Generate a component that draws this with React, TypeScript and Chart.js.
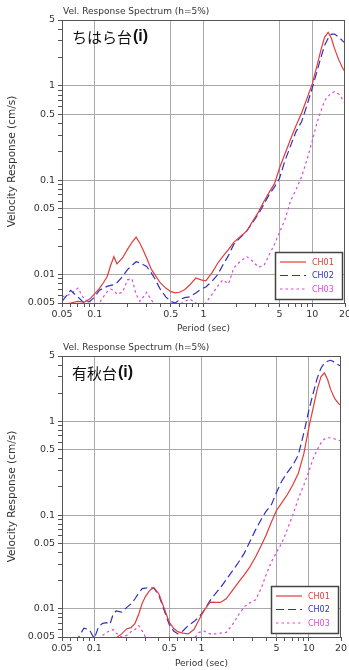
import React, { useEffect, useRef } from "react";
import { Chart, registerables } from "chart.js";

Chart.register(...registerables);

// ---- data ----
const periods = [
  0.05, 0.06, 0.07, 0.08, 0.09, 0.1, 0.11, 0.12, 0.13, 0.14, 0.15, 0.16, 0.18, 0.2, 0.22, 0.24, 0.26, 0.28, 0.3,
  0.33, 0.36, 0.4, 0.45, 0.5, 0.55, 0.6, 0.67, 0.75, 0.85, 0.95, 1.05, 1.2, 1.35, 1.5, 1.7, 1.9, 2.2, 2.5, 2.8,
  3.2, 3.6, 4.0, 4.5, 5.0, 5.6, 6.3, 7.1, 8.0, 9.0, 10, 11, 12, 13, 14, 15, 16, 17.5, 19, 20,
];

const topCH01 = [
  0.0048, 0.005, 0.0052, 0.0051, 0.0055, 0.0063, 0.0071, 0.0082, 0.0095, 0.0125, 0.0155, 0.013, 0.015, 0.0185,
  0.022, 0.025, 0.0215, 0.018, 0.015, 0.0115, 0.0098, 0.0082, 0.0072, 0.0066, 0.0064, 0.0065, 0.0069, 0.0078,
  0.0092, 0.0088, 0.0086, 0.0105, 0.0132, 0.0155, 0.0185, 0.022, 0.0255, 0.029, 0.036, 0.046, 0.06, 0.074, 0.092,
  0.135, 0.19, 0.27, 0.38, 0.52, 0.75, 1.05, 1.6, 2.4, 3.3, 3.7, 3.2, 2.5, 1.9, 1.55, 1.42,
];
const topCH02 = [
  0.0052, 0.0068, 0.0058, 0.005, 0.0052, 0.0058, 0.0068, 0.0072, 0.0075, 0.0077, 0.0078, 0.0082, 0.0095, 0.0113,
  0.0125, 0.0137, 0.0133, 0.0127, 0.0122, 0.0105, 0.0089, 0.007, 0.0058, 0.0052, 0.005, 0.0054, 0.0057, 0.0058,
  0.0064, 0.007, 0.0074, 0.0085, 0.01, 0.0125, 0.016, 0.021, 0.025, 0.029, 0.035, 0.044, 0.056, 0.07, 0.085,
  0.105, 0.16, 0.23, 0.33, 0.42, 0.64, 0.95, 1.4, 2.0, 2.7, 3.2, 3.55, 3.55, 3.3, 3.0, 2.85,
];
const topCH03 = [
  0.0058, 0.0062, 0.0072, 0.0055, 0.005, 0.0048, 0.005, 0.0058, 0.0066, 0.007, 0.0068, 0.0062, 0.0065, 0.0088,
  0.009, 0.0062, 0.0052, 0.0058, 0.0065, 0.0054, 0.0048, 0.0045, 0.0044, 0.0045, 0.0046, 0.0048, 0.0052, 0.0055,
  0.005, 0.0046, 0.005, 0.0062, 0.0075, 0.0088, 0.008, 0.0118, 0.014, 0.0155, 0.014, 0.012, 0.0125, 0.016, 0.021,
  0.028, 0.038, 0.06, 0.08, 0.11, 0.17, 0.26, 0.4, 0.54, 0.7, 0.78, 0.84, 0.87, 0.82, 0.72, 0.65,
];

const botCH01 = [
  0.0042, 0.0043, 0.0044, 0.0045, 0.0046, 0.0047, 0.0046, 0.0047, 0.0046, 0.0047, 0.0048, 0.0049, 0.0054, 0.0061,
  0.0063, 0.007, 0.0088, 0.0115, 0.0135, 0.0158, 0.0168, 0.0145, 0.01, 0.0072, 0.0062, 0.0057, 0.0055, 0.0054,
  0.006, 0.0077, 0.0095, 0.0118, 0.0117, 0.0117, 0.0128, 0.0152, 0.019, 0.023, 0.0275, 0.036, 0.047, 0.061, 0.085,
  0.112, 0.135, 0.165, 0.21, 0.28, 0.45, 0.85, 1.4, 2.2, 3.0, 3.3, 2.8, 2.2, 1.75, 1.55, 1.48,
];
const botCH02 = [
  0.0042, 0.0044, 0.0048, 0.0062, 0.006, 0.0048, 0.0065, 0.007, 0.0071, 0.0068, 0.0088, 0.0095, 0.0092, 0.0103,
  0.0113, 0.0128, 0.0148, 0.0164, 0.0166, 0.0168, 0.0166, 0.014, 0.0095, 0.0068, 0.0058, 0.0054, 0.0058, 0.0066,
  0.0073, 0.0082, 0.0095, 0.0122, 0.0145, 0.0168, 0.0205, 0.0245, 0.031, 0.039, 0.051, 0.07, 0.09, 0.11, 0.13,
  0.175, 0.23, 0.285, 0.34, 0.44, 0.75, 1.3, 2.0, 2.9, 3.7, 4.2, 4.4, 4.5, 4.3, 4.0, 3.9,
];
const botCH03 = [
  0.004, 0.0041, 0.0042, 0.0043, 0.0045, 0.005, 0.0048, 0.0052, 0.0056, 0.0058, 0.006, 0.0055, 0.005, 0.0052,
  0.0057, 0.006, 0.0066, 0.0058, 0.005, 0.0046, 0.0045, 0.0044, 0.0043, 0.0043, 0.0043, 0.0044, 0.0045, 0.0046,
  0.0048, 0.0056, 0.0058, 0.0054, 0.0054, 0.0055, 0.0056, 0.0065, 0.0085, 0.0105, 0.0115, 0.0125, 0.0165, 0.023,
  0.032, 0.04, 0.05, 0.07, 0.1, 0.15, 0.21, 0.29, 0.4, 0.5, 0.59, 0.65, 0.67, 0.67, 0.65, 0.63, 0.62,
];

const seriesNames = ["CH01", "CH02", "CH03"];
const xTickValues = [0.05, 0.06, 0.07, 0.08, 0.09, 0.1, 0.2, 0.3, 0.4, 0.5, 0.6, 0.7, 0.8, 0.9, 1, 2, 3, 4, 5, 6, 7, 8, 9, 10, 20];
const xTickLabels = ["0.05", "0.1", "0.5", "1", "5", "10", "20"];
const xGridValues = [0.1, 0.5, 1, 5, 10];
const yTickValues = [
  0.005, 0.006, 0.007, 0.008, 0.009, 0.01, 0.02, 0.03, 0.04, 0.05, 0.06, 0.07, 0.08, 0.09, 0.1, 0.2, 0.3, 0.4, 0.5,
  0.6, 0.7, 0.8, 0.9, 1, 2, 3, 4, 5,
];
const yTickLabels = ["0.005", "0.01", "0.05", "0.1", "0.5", "1", "5"];
const yGridValues = [0.01, 0.05, 0.1, 0.5, 1];

const chartTitle = "Vel. Response Spectrum (h=5%)";
const xTitle = "Period (sec)";
const yTitle = "Velocity Response (cm/s)";

// ---- styles ----
const COLORS = ["#e23b3b", "#2f2fc2", "#d94ad9"];
const DASHES = [[], [8, 4], [2.5, 3]];
const AXIS = "#555";
const GRID = "#a9a9a9";
const TEXT = "#333";
const FONT = "DejaVu Sans";

const near = (a: number, b: number) => Math.abs(a - b) < 1e-9 * Math.max(1, Math.abs(b));
const labelOf = (v: number) => {
  const s = String(Number(v.toPrecision(6)));
  return s;
};

type PanelProps = {
  station: string;
  ch01: number[];
  ch02: number[];
  ch03: number[];
  height: number;
  plotTop: number;
  plotBottom: number;
  plotRight: number;
};

function Panel(props: PanelProps) {
  const ref = useRef<HTMLCanvasElement | null>(null);
  useEffect(() => {
    const canvas = ref.current;
    if (!canvas) return;
    const W = 349;
    const series = [props.ch01, props.ch02, props.ch03];
    const datasets = series.map((vals, k) => ({
      label: seriesNames[k],
      data: periods.map((p, i) => ({ x: p, y: vals[i] })),
      borderColor: COLORS[k],
      borderWidth: 1.2,
      borderDash: DASHES[k],
      pointRadius: 0,
      tension: 0,
      fill: false,
    }));

    const overlay = {
      id: "overlay",
      afterDraw(chart: any) {
        const ctx = chart.ctx;
        const a = chart.chartArea;
        ctx.save();
        // frame
        ctx.strokeStyle = AXIS;
        ctx.lineWidth = 1;
        ctx.setLineDash([]);
        ctx.strokeRect(Math.round(a.left) + 0.5, Math.round(a.top) + 0.5, Math.round(a.right - a.left) - 1, Math.round(a.bottom - a.top));
        // title
        ctx.fillStyle = TEXT;
        ctx.font = `9px "${FONT}"`;
        ctx.textBaseline = "middle";
        ctx.textAlign = "left";
        ctx.fillText(chartTitle, a.left + 1, a.top - 8);
        // station label
        ctx.fillStyle = "#111";
        ctx.font = `15px "Noto Sans CJK JP"`;
        ctx.fillText(props.station, a.left + 10, a.top + 17);
        const w = ctx.measureText(props.station).width;
        ctx.font = `bold 16px "Liberation Sans"`;
        ctx.fillText("(i)", a.left + 11 + w, a.top + 17);
        // legend box
        const bw = 67;
        const bh = 47;
        const bx = a.right - bw - 3;
        const by = a.bottom - bh - 4;
        ctx.fillStyle = "#fff";
        ctx.fillRect(bx, by, bw, bh);
        ctx.strokeStyle = "#444";
        ctx.lineWidth = 1.5;
        ctx.strokeRect(bx + 0.5, by + 0.5, bw, bh);
        chart.data.datasets.forEach((ds: any, k: number) => {
          const yy = by + 10 + k * 13.5;
          ctx.strokeStyle = ds.borderColor;
          ctx.lineWidth = 1.2;
          ctx.setLineDash(ds.borderDash || []);
          ctx.beginPath();
          ctx.moveTo(bx + 5, yy);
          ctx.lineTo(bx + 31, yy);
          ctx.stroke();
          ctx.setLineDash([]);
          ctx.fillStyle = ds.borderColor;
          ctx.font = `8px "${FONT}"`;
          ctx.textBaseline = "middle";
          ctx.fillText(ds.label, bx + 37, yy + 0.5);
        });
        ctx.restore();
      },
    };

    const chart = new Chart(canvas, {
      type: "line",
      data: { datasets } as any,
      options: {
        animation: false,
        responsive: false,
        maintainAspectRatio: false,
        layout: { padding: { left: 0, right: W - props.plotRight, top: props.plotTop, bottom: 0 } },
        plugins: { legend: { display: false }, tooltip: { enabled: false }, title: { display: false } },
        scales: {
          x: {
            type: "logarithmic",
            min: 0.05,
            max: 20,
            afterBuildTicks: (s: any) => {
              s.ticks = xTickValues.map((v) => ({ value: v }));
            },
            afterFit: (s: any) => {
              s.height = props.height - props.plotBottom;
              s.paddingLeft = 0;
              s.paddingRight = 0;
            },
            ticks: {
              autoSkip: false,
              maxRotation: 0,
              minRotation: 0,
              padding: 2,
              color: TEXT,
              font: { family: FONT, size: 9.5 },
              callback: (v: any) => {
                const l = labelOf(Number(v));
                return xTickLabels.includes(l) ? l : "";
              },
            },
            grid: {
              color: (c: any) => (c.tick && xGridValues.some((g) => near(g, c.tick.value)) ? GRID : "rgba(0,0,0,0)"),
              tickColor: AXIS,
              tickLength: 4,
              lineWidth: 1,
            },
            border: { color: AXIS, width: 1 },
            title: {
              display: true,
              text: xTitle,
              color: TEXT,
              font: { family: FONT, size: 9 },
              padding: { top: 0, bottom: 1 },
            },
          },
          y: {
            type: "logarithmic",
            min: 0.005,
            max: 5,
            afterBuildTicks: (s: any) => {
              s.ticks = yTickValues.map((v) => ({ value: v }));
            },
            afterFit: (s: any) => {
              s.width = 62;
              s.paddingTop = 0;
              s.paddingBottom = 0;
            },
            ticks: {
              autoSkip: false,
              padding: 3,
              color: TEXT,
              font: { family: FONT, size: 9.5 },
              callback: (v: any) => {
                const l = labelOf(Number(v));
                return yTickLabels.includes(l) ? l : "";
              },
            },
            grid: {
              color: (c: any) => (c.tick && yGridValues.some((g) => near(g, c.tick.value)) ? GRID : "rgba(0,0,0,0)"),
              tickColor: AXIS,
              tickLength: 4,
              lineWidth: 1,
            },
            border: { color: AXIS, width: 1 },
            title: {
              display: true,
              text: yTitle,
              color: TEXT,
              font: { family: FONT, size: 10.5 },
              padding: { top: 6, bottom: 0 },
            },
          },
        },
      } as any,
      plugins: [overlay],
    });
    return () => chart.destroy();
  }, []);
  return <canvas ref={ref} width={349} height={props.height} style={{ display: "block", width: 349, height: props.height }} />;
}

export default function App() {
  return (
    <div style={{ position: "absolute", left: 0, top: 0, width: 349, height: 670, background: "#fff" }}>
      <Panel station="ちはら台" ch01={topCH01} ch02={topCH02} ch03={topCH03} height={335} plotTop={20} plotBottom={303} plotRight={345} />
      <Panel station="有秋台" ch01={botCH01} ch02={botCH02} ch03={botCH03} height={335} plotTop={21} plotBottom={302} plotRight={341} />
    </div>
  );
}
